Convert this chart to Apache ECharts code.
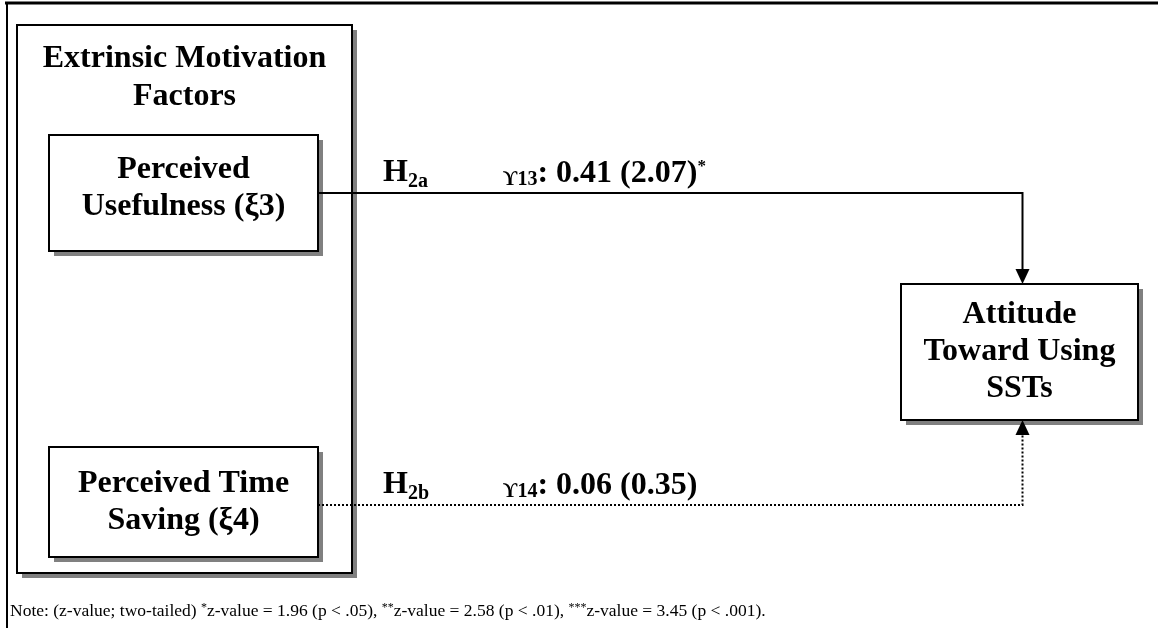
<!DOCTYPE html>
<html>
<head>
<meta charset="utf-8">
<title>Extrinsic motivation path model</title>
<script src="https://cdn.jsdelivr.net/npm/echarts@6/dist/echarts.min.js"></script>
<style>
html, body { margin: 0; padding: 0; background: #fff; }
#main { width: 1158px; height: 628px; }
</style>
</head>
<body>
<div id="main"></div>
<script>
// --- model content ---
var groupTitle = 'Extrinsic Motivation\nFactors';
var constructs = ['Perceived\nUsefulness (ξ3)', 'Perceived Time\nSaving (ξ4)', 'Attitude\nToward Using\nSSTs'];
var pathFrom = [0, 1];
var pathTo = [2, 2];
var hypotheses = ['2a', '2b'];
var gammaIdx = ['13', '14'];
var coefficients = [0.41, 0.06];
var zValues = [2.07, 0.35];
var signif = ['*', ''];
var noteLead = 'Note: (z-value; two-tailed) ';
var critZ = [1.96, 2.58, 3.45];
var critP = ['.05', '.01', '.001'];

// --- layout (diagram units, axes run 0..1158 x 0..628) ---
var groupBox = [17, 25, 352, 573];
var boxRects = [[49, 135, 318, 251], [49, 447, 318, 557], [901, 284, 1138, 420]];
var boxTextY = [188, 502, 352];
var groupTitleY = 78;
var pathY = [193, 505];
var hLabelX = 383, gLabelX = 503;

var SERIF = '"Liberation Serif", "DejaVu Serif", serif';
var SHADOW = '#808080';

function rectOf(api, r) {
    var p0 = api.coord([r[0], r[1]]), p1 = api.coord([r[2], r[3]]);
    return {
        x: Math.min(p0[0], p1[0]), y: Math.min(p0[1], p1[1]),
        width: Math.abs(p1[0] - p0[0]), height: Math.abs(p1[1] - p0[1])
    };
}

function shadowBox(api, r, label, ty, lh) {
    var s = rectOf(api, r);
    return [
        { type: 'rect', shape: { x: s.x + 5, y: s.y + 5, width: s.width, height: s.height }, style: { fill: SHADOW } },
        { type: 'rect', shape: s, style: { fill: '#fff', stroke: '#000', lineWidth: 2 } },
        { type: 'text', style: {
            text: label, x: s.x + s.width / 2, y: api.coord([0, ty])[1],
            align: 'center', verticalAlign: 'middle',
            fontFamily: SERIF, fontWeight: 'bold', fontSize: 32, lineHeight: lh, fill: '#000'
        } }
    ];
}

function renderBoxes(params, api) {
    var i = params.dataIndex;
    if (i === 0) {
        return { type: 'group', children: shadowBox(api, groupBox, groupTitle, groupTitleY, 38) };
    }
    return { type: 'group', children: shadowBox(api, boxRects[i - 1], constructs[i - 1], boxTextY[i - 1], 37) };
}

function renderPaths(params, api) {
    var i = params.dataIndex;
    var s = boxRects[pathFrom[i]], t = boxRects[pathTo[i]];
    var py = pathY[i];
    var tx = (t[0] + t[2]) / 2 + 3;
    var down = py < t[1];
    var endY = down ? t[1] : t[3];
    var a = api.coord([s[2], py]);
    var b = api.coord([tx, py]);
    var tip = api.coord([tx, endY]);
    var dir = down ? -1 : 1;
    var ah = 15, aw = 7;
    var solid = signif[i] !== '';
    var lx = api.coord([hLabelX, py]);
    var gx = api.coord([gLabelX, py]);

    var gammaText = '{g|ϒ' + gammaIdx[i] + '}{v|: ' + coefficients[i].toFixed(2) +
        ' (' + zValues[i].toFixed(2) + ')}' + (signif[i] ? '{s|' + signif[i] + '}' : '');

    return { type: 'group', children: [
        { type: 'polyline', shape: { points: [a, b, [tip[0], tip[1] + dir * ah]] },
          style: { fill: null, stroke: '#000', lineWidth: 2, lineDash: solid ? null : [2, 2] } },
        { type: 'polygon', shape: { points: [tip, [tip[0] - aw, tip[1] + dir * ah], [tip[0] + aw, tip[1] + dir * ah]] },
          style: { fill: '#000' } },
        { type: 'text', style: {
            text: '{h|H}{sub|' + hypotheses[i] + '}', x: lx[0], y: lx[1] - 1,
            align: 'left', verticalAlign: 'bottom', fill: '#000',
            rich: {
                h: { fontFamily: SERIF, fontWeight: 'bold', fontSize: 32, padding: [0, 0, 3, 0], fill: '#000' },
                sub: { fontFamily: SERIF, fontWeight: 'bold', fontSize: 20, verticalAlign: 'bottom', fill: '#000' }
            }
        } },
        { type: 'text', style: {
            text: gammaText, x: gx[0], y: gx[1] - 3,
            align: 'left', verticalAlign: 'bottom', fill: '#000',
            rich: {
                g: { fontFamily: SERIF, fontWeight: 'bold', fontSize: 20, verticalAlign: 'bottom', fill: '#000' },
                v: { fontFamily: SERIF, fontWeight: 'bold', fontSize: 32, fill: '#000' },
                s: { fontFamily: SERIF, fontWeight: 'bold', fontSize: 17, verticalAlign: 'top', fill: '#000' }
            }
        } }
    ] };
}

function renderFrame(params, api) {
    var tl = api.coord([5, 3]), tr = api.coord([1158, 3]), bl = api.coord([6, 628]);
    var noteParts = ['{n|' + noteLead + '}'];
    for (var k = 0; k < critZ.length; k++) {
        noteParts.push('{s|' + new Array(k + 2).join('*') + '}{n|z-value = ' + critZ[k].toFixed(2) +
            ' (p < ' + critP[k] + ')' + (k < critZ.length - 1 ? ', ' : '.') + '}');
    }
    var np = api.coord([10, 611]);
    return { type: 'group', children: [
        { type: 'line', shape: { x1: tl[0], y1: tl[1], x2: tr[0], y2: tr[1] }, style: { stroke: '#000', lineWidth: 3 } },
        { type: 'line', shape: { x1: bl[0] + 1, y1: tl[1], x2: bl[0] + 1, y2: bl[1] }, style: { stroke: '#000', lineWidth: 2 } },
        { type: 'text', style: {
            text: noteParts.join(''), x: np[0], y: np[1],
            align: 'left', verticalAlign: 'middle', fill: '#000',
            rich: {
                n: { fontFamily: SERIF, fontSize: 17.5, fill: '#000' },
                s: { fontFamily: SERIF, fontSize: 12, verticalAlign: 'top', fill: '#000' }
            }
        } }
    ] };
}

var chart = echarts.init(document.getElementById('main'), null, { renderer: 'canvas' });
chart.setOption({
    animation: false,
    backgroundColor: '#fff',
    grid: { left: 0, right: 0, top: 0, bottom: 0 },
    xAxis: { type: 'value', min: 0, max: 1158, show: false },
    yAxis: { type: 'value', min: 0, max: 628, inverse: true, show: false },
    series: [
        { type: 'custom', name: 'frame', silent: true, clip: false, renderItem: renderFrame, data: [[0, 0]] },
        { type: 'custom', name: 'constructs', silent: true, clip: false, renderItem: renderBoxes,
          data: [0].concat(constructs.map(function (c, i) { return i + 1; })).map(function (i) { return [i, 0]; }) },
        { type: 'custom', name: 'paths', silent: true, clip: false, renderItem: renderPaths,
          data: coefficients.map(function (c, i) { return [i, c]; }) }
    ]
});
</script>
</body>
</html>
